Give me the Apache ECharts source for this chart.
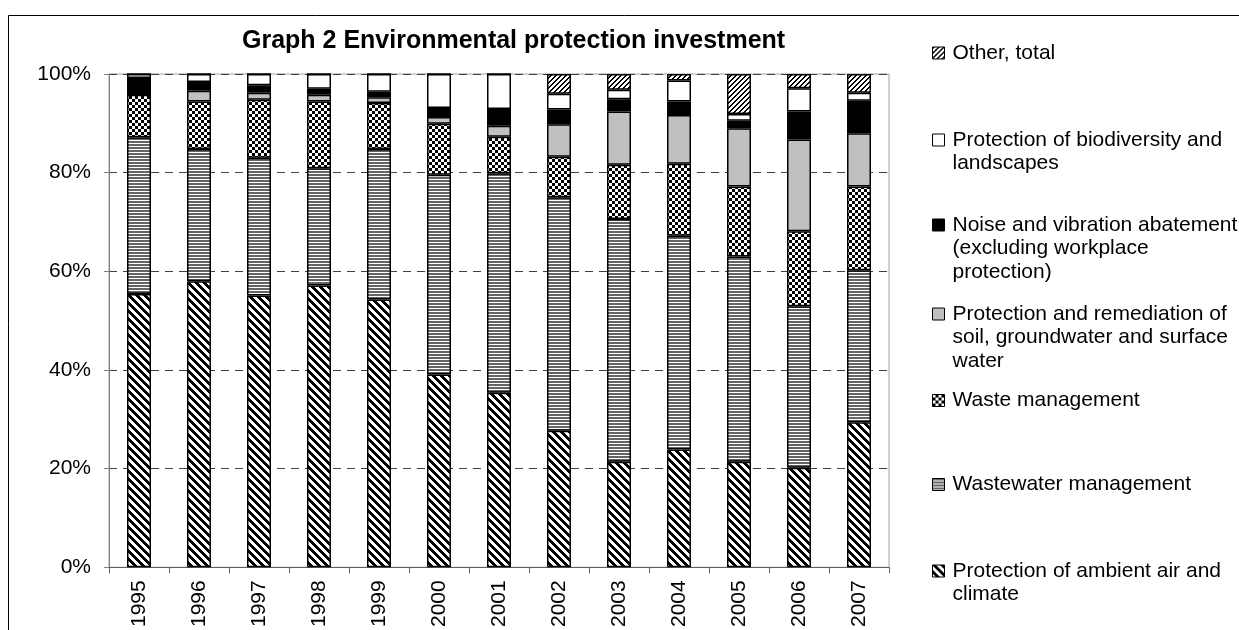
<!DOCTYPE html>
<html>
<head>
<meta charset="utf-8">
<title>Graph 2 Environmental protection investment</title>
<script src="https://cdn.jsdelivr.net/npm/echarts@6/dist/echarts.min.js"></script>
<style>
  html, body { margin: 0; padding: 0; background: #fff; }
  #chart { width: 1239px; height: 630px; }
</style>
</head>
<body>
<div id="chart"></div>
<script>
// Share of environmental protection investment by domain, per year (%)
const years = ['1995', '1996', '1997', '1998', '1999', '2000', '2001',
               '2002', '2003', '2004', '2005', '2006', '2007'];
const airClimate   = [55.4, 58.0, 55.1, 57.1, 54.3, 39.1, 35.4, 27.7, 21.4, 23.9, 21.4, 20.2, 29.4];
const wastewater   = [31.8, 26.8, 27.9, 23.8, 30.5, 40.5, 44.5, 47.3, 49.2, 43.3, 41.6, 32.7, 30.8];
const waste        = [ 8.6,  9.6, 11.8, 13.5,  9.3, 10.3,  7.4,  8.2, 11.0, 14.6, 14.2, 15.2, 17.0];
const soilWater    = [ 0.0,  2.2,  1.4,  1.4,  1.2,  1.4,  2.2,  6.6, 10.8,  9.9, 11.8, 18.6, 10.8];
const noise        = [ 3.4,  1.8,  1.5,  1.2,  1.1,  1.8,  3.4,  3.0,  2.5,  2.7,  1.5,  5.7,  6.6];
const biodiversity = [ 0.8,  1.6,  2.3,  3.0,  3.6,  6.9,  7.1,  3.2,  1.9,  4.3,  1.4,  4.7,  1.6];
const otherTotal   = [ 0.0,  0.0,  0.0,  0.0,  0.0,  0.0,  0.0,  4.0,  3.2,  1.3,  8.1,  2.9,  3.8];
const yTickLabels  = ['0%', '20%', '40%', '60%', '80%', '100%'];

const FONT = 'Liberation Sans, Arial, sans-serif';

// Small pixel tiles used as repeating fills (grey level per pixel)
function tile(w, h, shade) {
  const c = document.createElement('canvas');
  c.width = w; c.height = h;
  const ctx = c.getContext('2d');
  const img = ctx.createImageData(w, h);
  for (let y = 0; y < h; y++) {
    for (let x = 0; x < w; x++) {
      const v = shade(x, y);
      const i = (y * w + x) * 4;
      img.data[i] = img.data[i + 1] = img.data[i + 2] = v;
      img.data[i + 3] = 255;
    }
  }
  ctx.putImageData(img, 0, 0);
  return { image: c, repeat: 'repeat' };
}

const fillAir        = tile(8, 8, (x, y) => ((x - y + 64) % 8) < 4 ? 0 : 255);
const fillWastewater = tile(4, 3, (x, y) => y < 2 ? 100 : 255);
const fillWaste      = tile(6, 6, (x, y) => ((Math.floor(x / 3) + Math.floor(y / 3)) % 2) ? 0 : 255);
const fillOther      = tile(5, 5, (x, y) => ((x + y) % 5) < 2 ? 0 : 255);

// Stack order: first entry sits at the bottom of each bar
const stackDefs = [
  { name: 'Protection of ambient air and climate', data: airClimate, fill: fillAir,
    lines: ['Protection of ambient air and', 'climate'], iconY: 571 },
  { name: 'Wastewater management', data: wastewater, fill: fillWastewater,
    lines: ['Wastewater management'], iconY: 484.5 },
  { name: 'Waste management', data: waste, fill: fillWaste,
    lines: ['Waste management'], iconY: 400.5 },
  { name: 'Protection and remediation of soil, groundwater and surface water', data: soilWater, fill: '#c0c0c0',
    lines: ['Protection and remediation of', 'soil, groundwater and surface', 'water'], iconY: 314 },
  { name: 'Noise and vibration abatement (excluding workplace protection)', data: noise, fill: '#000000',
    lines: ['Noise and vibration abatement', '(excluding workplace', 'protection)'], iconY: 225 },
  { name: 'Protection of biodiversity and landscapes', data: biodiversity, fill: '#ffffff',
    lines: ['Protection of biodiversity and', 'landscapes'], iconY: 140 },
  { name: 'Other, total', data: otherTotal, fill: fillOther,
    lines: ['Other, total'], iconY: 53 }
];

const LINE_H = 23.5;

// Each legend entry is its own component so the swatch lines up with the
// first text line; blank lines above the text keep the block centred there.
const legends = stackDefs.map(d => {
  const n = d.lines.length;
  return {
    data: [d.name],
    orient: 'vertical',
    left: 932,
    top: d.iconY - (2 * n - 1) * LINE_H / 2,
    padding: 0,
    itemGap: 0,
    itemWidth: 12,
    itemHeight: 12,
    icon: 'rect',
    selectedMode: false,
    formatter: () => '\n'.repeat(n - 1) + d.lines.join('\n'),
    itemStyle: { borderColor: '#000', borderWidth: 1 },
    textStyle: {
      fontFamily: FONT,
      fontSize: 21,
      color: '#000',
      lineHeight: LINE_H,
      padding: [0, 0, 0, 3]
    }
  };
});

const chart = echarts.init(document.getElementById('chart'), null, { renderer: 'canvas' });

chart.setOption({
  backgroundColor: '#ffffff',
  animation: false,
  title: {
    text: 'Graph 2 Environmental protection investment',
    left: 242,
    top: 29,
    padding: 0,
    textStyle: { fontFamily: FONT, fontSize: 25, fontWeight: 'bold', color: '#000' }
  },
  legend: legends,
  grid: {
    left: 109, right: 350, top: 74, bottom: 62,
    show: true, borderColor: '#a0a0a0', borderWidth: 1, backgroundColor: '#fff'
  },
  xAxis: {
    type: 'category',
    data: years,
    boundaryGap: true,
    axisLine: { lineStyle: { color: '#606060', width: 1 } },
    axisTick: { show: true, length: 6, interval: 0, lineStyle: { color: '#606060' } },
    axisLabel: { interval: 0, rotate: 90, margin: 13, fontFamily: FONT, fontSize: 21, color: '#000' },
    splitLine: { show: false }
  },
  yAxis: {
    type: 'value',
    min: 0, max: 100, interval: 20,
    axisLine: { show: true, lineStyle: { color: '#808080', width: 1 } },
    axisTick: { show: true, length: 5, lineStyle: { color: '#808080' } },
    axisLabel: {
      margin: 18, fontFamily: FONT, fontSize: 21, color: '#000',
      formatter: v => yTickLabels[Math.round(v / 20)]
    },
    splitLine: { show: true, lineStyle: { color: '#404040', type: [8, 6], width: 1 } }
  },
  graphic: [{
    type: 'rect',
    silent: true,
    z: 100,
    shape: { x: 8.5, y: 15.5, width: 1400, height: 800 },
    style: { fill: 'none', stroke: '#000', lineWidth: 1 }
  }],
  series: stackDefs.map(d => ({
    type: 'bar',
    name: d.name,
    stack: 'total',
    barWidth: 24,
    data: d.data,
    itemStyle: { color: d.fill, borderColor: '#000', borderWidth: 1.5 },
    emphasis: { disabled: true }
  }))
});
</script>
</body>
</html>
